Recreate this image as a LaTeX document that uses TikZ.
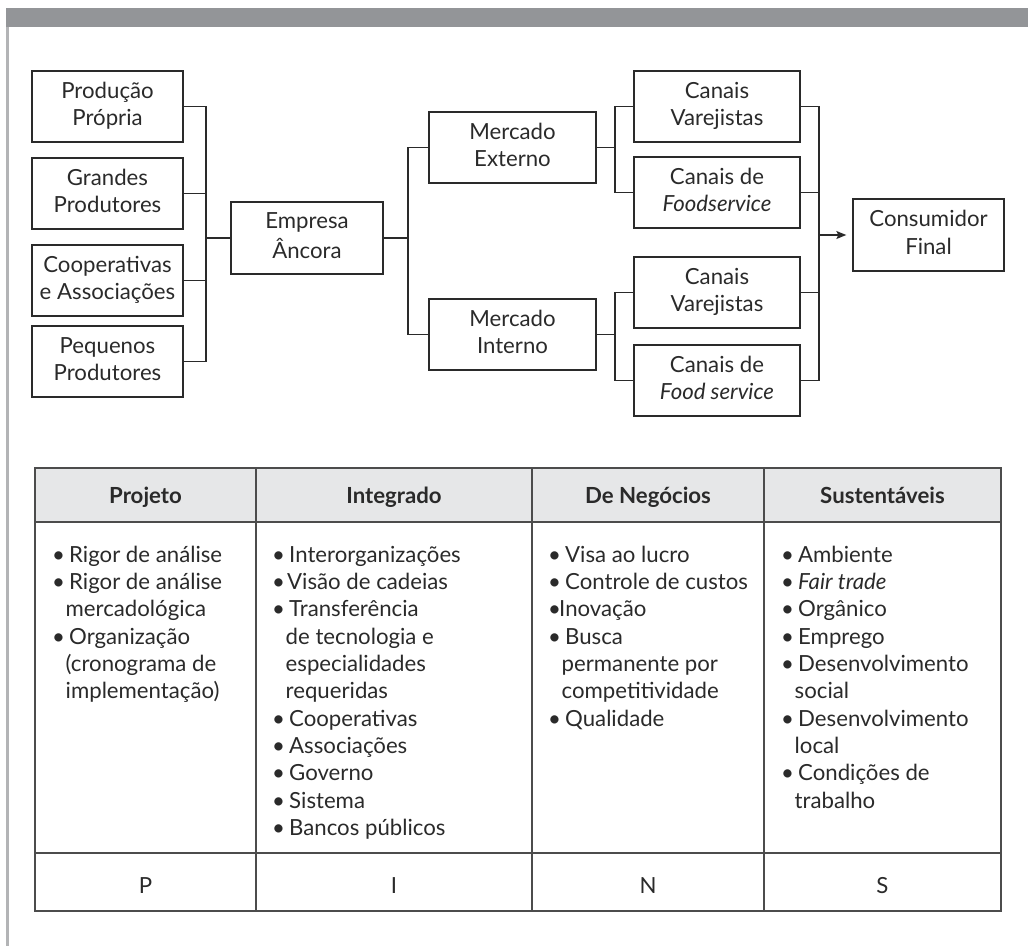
\documentclass[tikz,border=0pt]{standalone}
\usepackage{fontspec}
\setmainfont{Lato}
\usetikzlibrary{arrows.meta}

\definecolor{barcol}{HTML}{939598}
\definecolor{railcol}{HTML}{B3B4B6}
\definecolor{inkcol}{HTML}{2A2A2A}
\definecolor{rulecol}{HTML}{4C4C4C}
\definecolor{headfill}{HTML}{E6E7E8}

% bullet of a list item, and the indent of a wrapped line
\newcommand\bul[1][17pt]{\makebox[#1][l]{\textbullet}}
\newcommand\cont{\hspace*{13.5pt}}

\begin{document}
\begin{tikzpicture}[x=1pt,y=-1pt,
  txt/.style={font=\fontsize{22.2}{27.3}\selectfont, text=inkcol},
  flowbox/.style={txt, draw=inkcol, line width=1.4pt, inner sep=0pt,
    minimum width=151pt, minimum height=71pt, align=center},
  conn/.style={draw=inkcol, line width=1.2pt},
  cell/.style={txt, anchor=north west, inner sep=0pt, align=left},
  head/.style={txt, font=\fontsize{22.2}{27.3}\selectfont\bfseries, anchor=base, inner sep=0pt},
  tag/.style={txt, anchor=base, inner sep=0pt},
  grid/.style={draw=rulecol, line width=1.3pt}]

\useasboundingbox (0,0) rectangle (1028,946);

% page frame: top bar and left rail
\fill[barcol] (6,8) rectangle (1028,27);
\fill[railcol] (6,27) rectangle (8.5,946);

% ---- supply chain ----
\node[flowbox] (prod)  at (107.5,106.5) {\strut Produção\\Própria\strut};
\node[flowbox] (grand) at (107.5,193.5) {\strut Grandes\\Produtores\strut};
\node[flowbox] (coop)  at (107.5,280.5) {\strut Cooperativas\\e Associações\strut};
\node[flowbox] (peq)   at (107.5,361.5) {\strut Pequenos\\Produtores\strut};

\node[flowbox, minimum width=152pt, minimum height=72pt] (emp) at (307,238) {\strut Empresa\\Âncora\strut};

\node[flowbox, minimum width=167pt] (mext) at (512.5,147.5) {\strut Mercado\\Externo\strut};
\node[flowbox, minimum width=167pt] (mint) at (512.5,334.5) {\strut Mercado\\Interno\strut};

\node[flowbox, minimum width=166pt] (cv1) at (717,106.5) {\strut Canais\\Varejistas\strut};
\node[flowbox, minimum width=166pt] (cf1) at (717,192.5) {\strut Canais de\\\textit{Foodservice}\strut};
\node[flowbox, minimum width=166pt] (cv2) at (717,292.5) {\strut Canais\\Varejistas\strut};
\node[flowbox, minimum width=166pt] (cf2) at (717,380.5) {\strut Canais de\\\textit{Food service}\strut};

\node[flowbox, minimum height=72pt] (cons) at (928.5,235) {\strut Consumidor\\Final\strut};

% junction points of the brackets
\coordinate (jl) at (206,238);
\coordinate (jm) at (408,238);
\coordinate (je) at (615,147.5);
\coordinate (ji) at (615,334.5);
\coordinate (jr) at (819,235);

\draw[conn] (prod.east) -| (jl) |- (peq.east);
\draw[conn] (grand.east) -- (grand.east -| jl);
\draw[conn] (coop.east) -- (coop.east -| jl);
\draw[conn] (jl) -- (emp.west);

\draw[conn] (emp.east) -- (jm);
\draw[conn] (mext.west) -| (jm) |- (mint.west);

\draw[conn] (mext.east) -- (je);
\draw[conn] (cv1.west) -| (je) |- (cf1.west);
\draw[conn] (mint.east) -- (ji);
\draw[conn] (cv2.west) -| (ji) |- (cf2.west);

\draw[conn] (cv1.east) -| (jr) |- (cf2.east);
\draw[conn] (cf1.east) -- (cf1.east -| jr);
\draw[conn] (cv2.east) -- (cv2.east -| jr);
\draw[conn, -{Stealth[length=10pt,width=8pt,inset=2pt]}, shorten >=6pt] (jr) -- (cons.west);

% ---- table ----
\fill[headfill] (35,468) rectangle (1001,522);
\draw[grid] (35,468) rectangle (1001,911);
\draw[grid] (35,522) -- (1001,522);
\draw[grid] (35,853) -- (1001,853);
\foreach \cx in {256,532,764} \draw[grid] (\cx,468) -- (\cx,911);

\node[head] (hP) at (145.5,503) {Projeto};
\node[head] (hI) at (394,503) {Integrado};
\node[head] (hN) at (648,503) {De Negócios};
\node[head] (hS) at (882.5,503) {Sustentáveis};

\node[cell] (bP) at (52,543) {\strut\bul Rigor de análise\\
\bul Rigor de análise\\
\cont mercadológica\\
\bul Organização\\
\cont(cronograma de\\
\cont implementação)};

\node[cell] (bI) at (272,543) {\strut\bul Interorganizações\\
\bul[15pt]Visão de cadeias\\
\bul Transferência\\
\cont de tecnologia e\\
\cont especialidades\\
\cont requeridas\\
\bul Cooperativas\\
\bul Associações\\
\bul Governo\\
\bul Sistema\\
\bul Bancos públicos};

\node[cell] (bN) at (548,543) {\strut\bul Visa ao lucro\\
\bul Controle de custos\\
\bul[11pt]Inovação\\
\bul Busca\\
\cont permanente por\\
\cont competitividade\\
\bul Qualidade};

\node[cell] (bS) at (781,543) {\strut\bul Ambiente\\
\bul\textit{Fair trade}\\
\bul Orgânico\\
\bul Emprego\\
\bul Desenvolvimento\\
\cont social\\
\bul Desenvolvimento\\
\cont local\\
\bul Condições de\\
\cont trabalho};

\node[tag] (lP) at (145.5,893) {P};
\node[tag] (lI) at (394,893) {I};
\node[tag] (lN) at (648,893) {N};
\node[tag] (lS) at (882.5,893) {S};

\end{tikzpicture}
\end{document}
